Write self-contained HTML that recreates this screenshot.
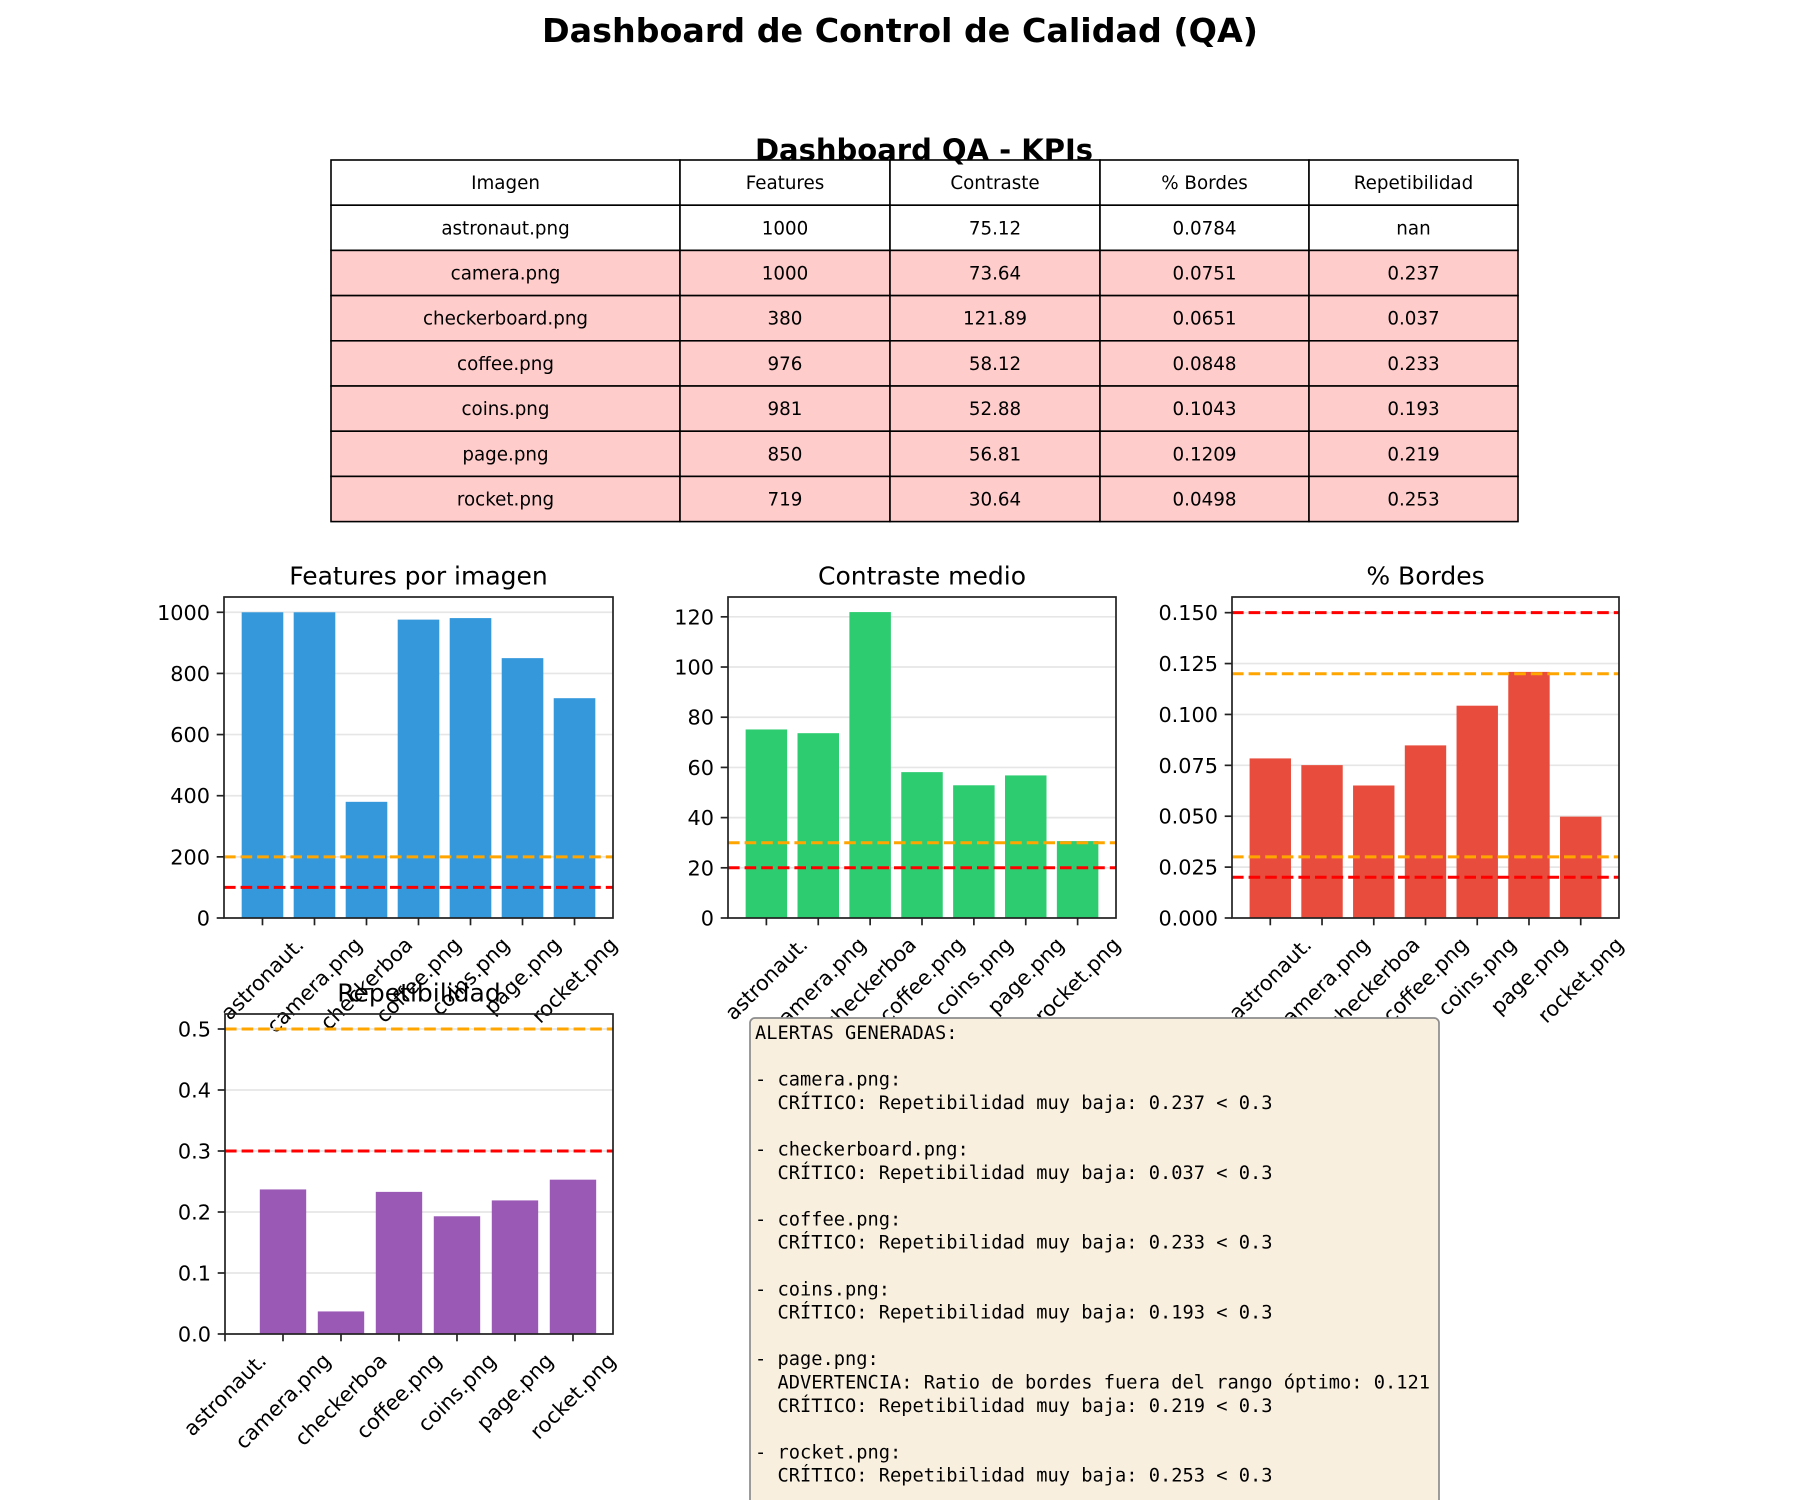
<!DOCTYPE html>
<html><head><meta charset="utf-8"><style>
html,body{margin:0;padding:0;background:#fff;}
svg{display:block;font-family:"DejaVu Sans","Liberation Sans",sans-serif;}
</style></head><body>
<svg id="s" xmlns="http://www.w3.org/2000/svg" width="1800" height="1500" viewBox="0 0 1800 1500"></svg>
<script>
(function(){
const S=document.getElementById('s');const NS='http://www.w3.org/2000/svg';
function el(t,a,txt){const e=document.createElementNS(NS,t);for(const k in a)e.setAttribute(k,a[k]);if(txt!==undefined)e.textContent=txt;S.appendChild(e);return e;}
el('rect',{x:0,y:0,width:1800,height:1500,fill:'#fff'});
el('text',{x:900,y:42,'text-anchor':'middle','font-size':'33.3','font-weight':'bold'},'Dashboard de Control de Calidad (QA)');
const cols=[331,680,890,1100,1309,1518];const tTop=160,rh=45.2;
const rows=[['Imagen','Features','Contraste','% Bordes','Repetibilidad'],
['astronaut.png','1000','75.12','0.0784','nan'],['camera.png','1000','73.64','0.0751','0.237'],
['checkerboard.png','380','121.89','0.0651','0.037'],['coffee.png','976','58.12','0.0848','0.233'],
['coins.png','981','52.88','0.1043','0.193'],['page.png','850','56.81','0.1209','0.219'],['rocket.png','719','30.64','0.0498','0.253']];
rows.forEach((r,i)=>{r.forEach((c,j)=>{const y=tTop+i*rh;
el('rect',{x:cols[j],y:y,width:cols[j+1]-cols[j],height:rh,fill:i>=2?'#ffcccc':'#fff',stroke:'#000','stroke-width':1.6});
el('text',{x:(cols[j]+cols[j+1])/2,y:y+rh/2+6.5,'text-anchor':'middle','font-size':'18.3'},c);});});
el('text',{x:924,y:160,'text-anchor':'middle','font-size':'29','font-weight':'bold'},'Dashboard QA - KPIs');
const names=['astronaut.','camera.png','checkerboa','coffee.png','coins.png','page.png','rocket.png'];
function chart(o){const AL=o.L,AR=o.R,AT=o.T,AB=o.B,ymax=o.ymax,x0=o.x0,x1=o.x1;
const sx=v=>AL+(v-x0)/(x1-x0)*(AR-AL), sy=v=>AB-v/ymax*(AB-AT);
o.ticks.forEach(t=>{el('line',{x1:AL,x2:AR,y1:sy(t),y2:sy(t),stroke:'#e6e6e6','stroke-width':1.7});});
o.vals.forEach((v,i)=>{if(v==null)return;el('rect',{x:sx(i-0.4),y:sy(v),width:sx(i+0.4)-sx(i-0.4),height:AB-sy(v),fill:o.color});});
o.lines.forEach(l=>{el('line',{x1:AL,x2:AR,y1:sy(l[0]),y2:sy(l[0]),stroke:l[1],'stroke-width':3,'stroke-dasharray':'11.6 5'});});
el('rect',{x:AL,y:AT,width:AR-AL,height:AB-AT,fill:'none',stroke:'#222','stroke-width':1.7});
o.ticks.forEach(t=>{el('line',{x1:AL-7.3,x2:AL,y1:sy(t),y2:sy(t),stroke:'#222','stroke-width':1.7});
el('text',{x:AL-14,y:sy(t)+7.5,'text-anchor':'end','font-size':'20.8'},o.fmt(t));});
names.forEach((n,i)=>{const x=sx(i);el('line',{x1:x,x2:x,y1:AB,y2:AB+7.3,stroke:'#222','stroke-width':1.7});
const t=el('text',{x:0,y:0,'text-anchor':'middle','font-size':'20.8','dominant-baseline':'central'},n);
let w=n.length*12;try{const m=t.getComputedTextLength();if(m>0)w=m;}catch(e){}
const h=(w+24)*0.7071;const cy=AB+14.6+h/2;
t.setAttribute('x',x);t.setAttribute('y',cy);t.setAttribute('transform','rotate(-45 '+x+' '+cy+')');});
el('text',{x:(AL+AR)/2,y:AT-12.5,'text-anchor':'middle','font-size':'25'},o.title);}
const xa=[-0.74,6.74];
chart({L:224,R:613,T:597,B:918,ymax:1050,x0:xa[0],x1:xa[1],vals:[1000,1000,380,976,981,850,719],color:'#3498db',ticks:[0,200,400,600,800,1000],fmt:t=>''+t,title:'Features por imagen',lines:[[200,'orange'],[100,'red']]});
chart({L:728,R:1116,T:597,B:918,ymax:127.9,x0:xa[0],x1:xa[1],vals:[75.12,73.64,121.89,58.12,52.88,56.81,30.64],color:'#2ecc71',ticks:[0,20,40,60,80,100,120],fmt:t=>''+t,title:'Contraste medio',lines:[[30,'orange'],[20,'red']]});
chart({L:1232,R:1619,T:597,B:918,ymax:0.1577,x0:xa[0],x1:xa[1],vals:[0.0784,0.0751,0.0651,0.0848,0.1043,0.1209,0.0498],color:'#e74c3c',ticks:[0,0.025,0.05,0.075,0.1,0.125,0.15],fmt:t=>t.toFixed(3),title:'% Bordes',lines:[[0.15,'red'],[0.12,'orange'],[0.03,'orange'],[0.02,'red']]});
chart({L:225,R:613,T:1014,B:1334,ymax:0.5246,x0:0,x1:6.69,vals:[null,0.237,0.037,0.233,0.193,0.219,0.253],color:'#9b59b6',ticks:[0,0.1,0.2,0.3,0.4,0.5],fmt:t=>t.toFixed(1),title:'Repetibilidad',lines:[[0.5,'orange'],[0.3,'red']]});
el('rect',{x:750,y:1018,width:689,height:500,rx:5,fill:'#f9efdf',stroke:'#8c8c8c','stroke-width':1.7});
const lines=['ALERTAS GENERADAS:','','- camera.png:','  CRÍTICO: Repetibilidad muy baja: 0.237 < 0.3','','- checkerboard.png:','  CRÍTICO: Repetibilidad muy baja: 0.037 < 0.3','','- coffee.png:','  CRÍTICO: Repetibilidad muy baja: 0.233 < 0.3','','- coins.png:','  CRÍTICO: Repetibilidad muy baja: 0.193 < 0.3','','- page.png:','  ADVERTENCIA: Ratio de bordes fuera del rango óptimo: 0.121','  CRÍTICO: Repetibilidad muy baja: 0.219 < 0.3','','- rocket.png:','  CRÍTICO: Repetibilidad muy baja: 0.253 < 0.3'];
lines.forEach((s,i)=>{if(!s)return;const t=el('text',{x:755,y:1039+23.3*i,'font-size':'18.7','font-family':'DejaVu Sans Mono, Liberation Mono, monospace'},s);t.style.whiteSpace='pre';});
})();
</script>
</body></html>
